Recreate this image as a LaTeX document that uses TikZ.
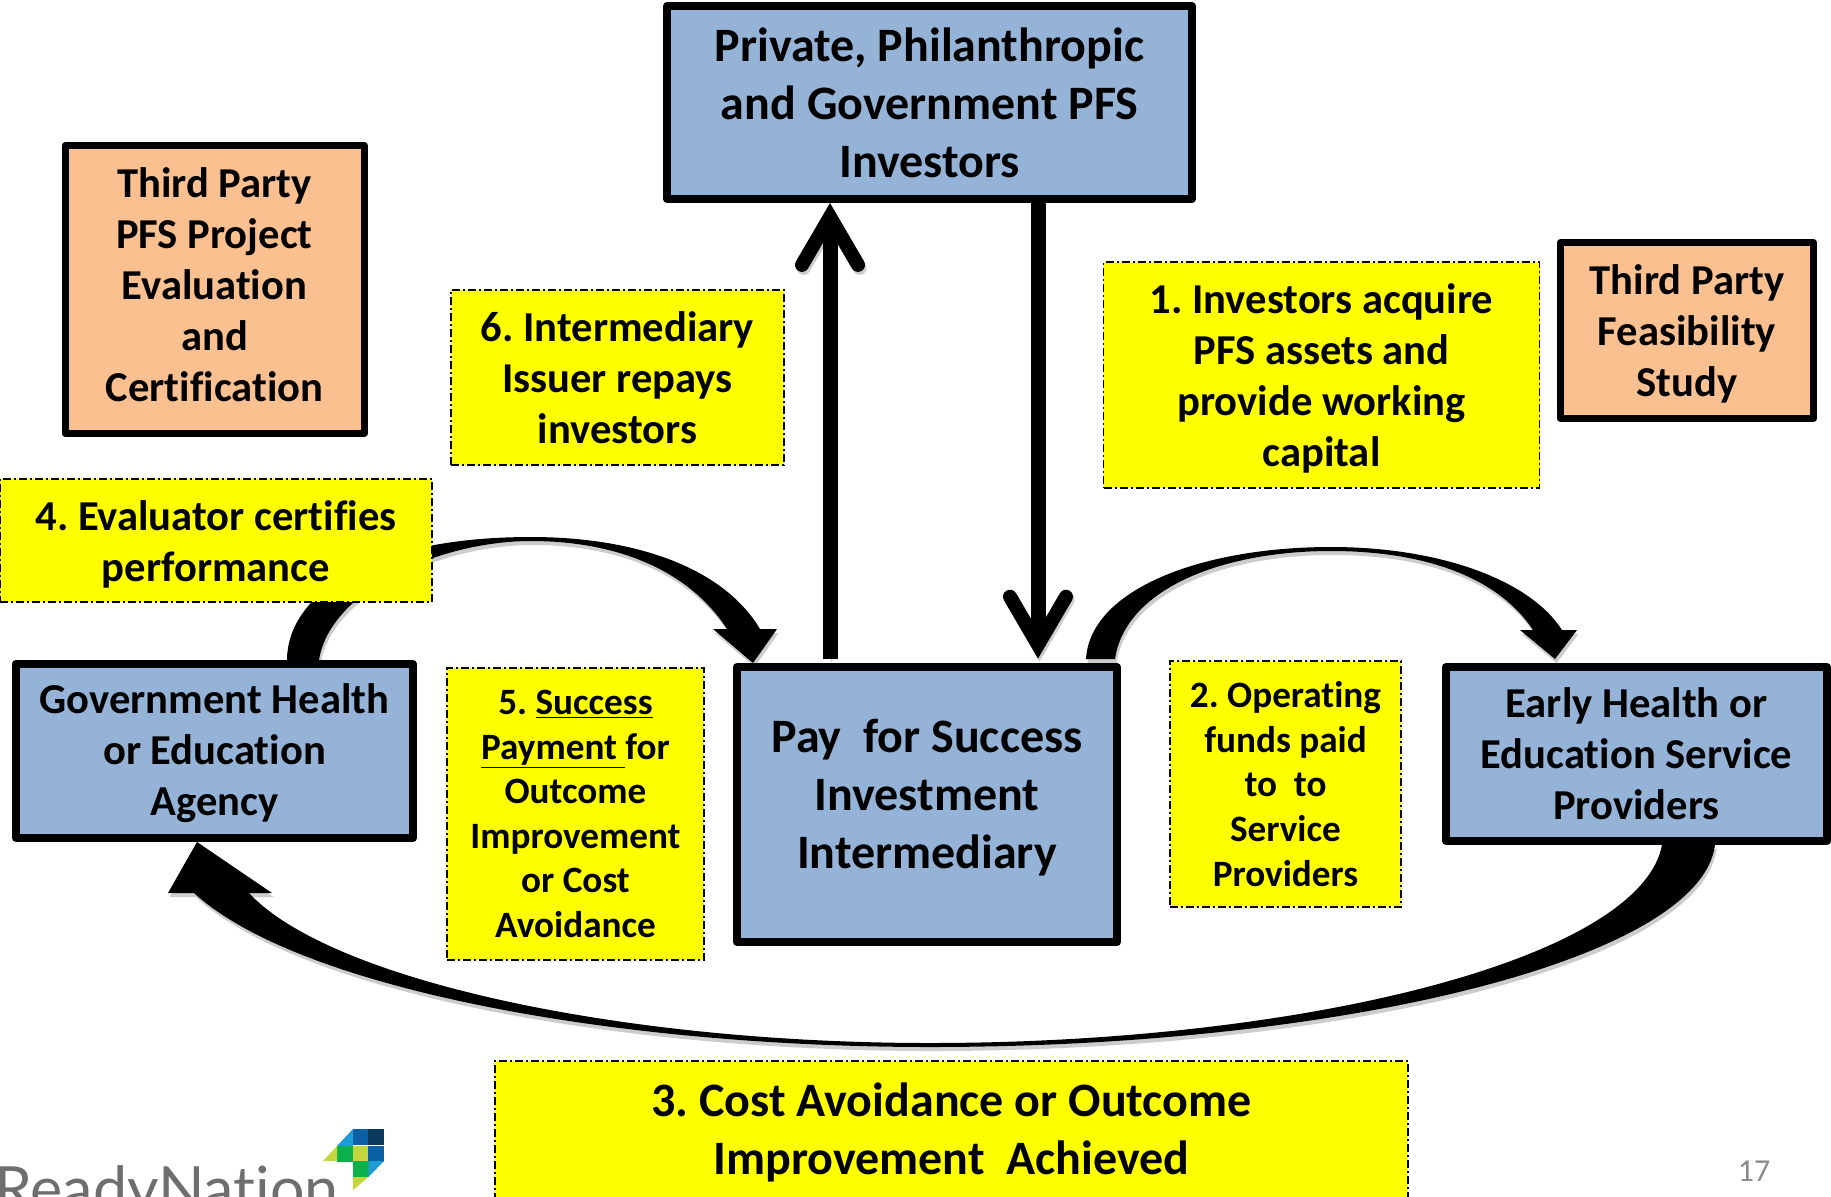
\documentclass[tikz,border=0pt]{standalone}
\usepackage{fontspec}
\setmainfont{Carlito}[Ligatures=NoCommon]
\newfontfamily\logofont{Lato}[Ligatures=NoCommon]
\usetikzlibrary{arrows.meta,shadows,backgrounds}
\definecolor{boxBlue}{HTML}{95B3D7}
\definecolor{boxPeach}{HTML}{FAC090}
\definecolor{stepYellow}{RGB}{255,255,0}
\definecolor{logoGray}{HTML}{6D6E70}
\definecolor{logoNavy}{HTML}{0A3A5E}
\definecolor{logoBlue}{HTML}{0B5FA5}
\definecolor{logoSky}{HTML}{1E9CD7}
\definecolor{logoGreen}{HTML}{0DB14B}
\definecolor{logoLime}{HTML}{C3D63C}
\newcommand{\padTop}[1]{\rule{0pt}{#1}}
\newcommand{\padBottom}[1]{\rule[-#1]{0pt}{#1}}

\begin{document}
\frenchspacing
\begin{tikzpicture}[x=.5pt,y=-.5pt,>=stealth]
  \useasboundingbox (0,0) rectangle (1831,1196);
  \tikzset{
    actor/.style={rectangle,draw=black,fill=boxBlue,line width=4pt,line join=round,align=center},
    third/.style={rectangle,draw=black,fill=boxPeach,line width=3.5pt,line join=round,align=center},
    stepbox/.style={rectangle,draw=black,fill=stepYellow,line width=.8pt,
      dash pattern=on 4pt off 1.5pt on 1pt off 1.5pt,align=center},
    % text sizes
    bigText/.style={font=\fontsize{24}{29}\selectfont\bfseries},
    midText/.style={font=\fontsize{21.3}{25.5}\selectfont\bfseries},
    smallText/.style={font=\fontsize{18.6}{22.3}\selectfont\bfseries},
    % edge styles
    straightArrow/.style={line width=7.5pt,
      -{Straight Barb[length=24pt,width=28pt,line width=7pt,line cap=round,line join=miter]},
      preaction={draw=black!20,transform canvas={shift={(.8pt,-1.5pt)}}}},
    curveArrow/.style={fill=black,drop shadow={shadow xshift=.8pt,shadow yshift=-2pt,opacity=.2,fill=black}}
  }

  %% Investors and intermediary
  \node [actor,bigText,minimum width=262.5pt,minimum height=96.5pt] (investors) at (929.5,102.5)
    {Private, Philanthropic\\and Government PFS\\Investors};
  \node [actor,bigText,minimum width=190pt,minimum height=137.5pt,node distance=351pt,xshift=-1.25pt]
    (intermediary) [below of=investors] {Pay\ \ for Success\\Investment\\Intermediary\padBottom{10.6pt}};

  %% Agency and providers
  \node [actor,midText,minimum width=198.5pt,minimum height=87pt,node distance=356.25pt,yshift=26.75pt]
    (agency) [left of=intermediary] {\padTop{17.3pt}Government Health\\or Education\\Agency};
  \node [actor,midText,minimum width=190.5pt,minimum height=87pt,node distance=354.75pt,yshift=25.25pt]
    (providers) [right of=intermediary] {Early Health or\\Education Service\\Providers};

  %% Third parties
  \node [third,midText,minimum width=149.5pt,minimum height=144pt,node distance=230.75pt]
    (evaluation) [above of=agency] {Third Party\\PFS Project\\Evaluation\\and\\Certification\padBottom{4.6pt}};
  \node [third,midText,minimum width=126.5pt,minimum height=88pt,node distance=211.75pt,xshift=25.25pt]
    (feasibility) [above of=providers] {\padTop{18.4pt}Third Party\\Feasibility\\Study};

  %% Numbered steps
  \node [stepbox,midText,minimum width=218pt,minimum height=113pt,node distance=196pt,yshift=-136.25pt]
    (invest) [right of=investors] {\padTop{18.4pt}1. Investors acquire\\PFS assets and\\provide working\\capital};
  \node [stepbox,smallText,minimum width=115.5pt,minimum height=123pt,node distance=179.25pt,yshift=10.25pt]
    (operate) [right of=intermediary] {2. Operating\\funds paid\\to\ \ to\\Service\\Providers};
  \node [stepbox,bigText,minimum width=456.5pt,minimum height=69pt,node distance=162.75pt,xshift=12.25pt]
    (achieved) [below of=intermediary] {\padTop{19.2pt}3. Cost Avoidance or Outcome\\Improvement\ \ Achieved};
  \node [stepbox,midText,minimum width=216pt,minimum height=61.5pt,node distance=105.25pt,xshift=.75pt]
    (certify) [above of=agency] {\padTop{18.4pt}4. Evaluator certifies\\performance};
  \node [stepbox,smallText,minimum width=128.5pt,minimum height=146pt,node distance=175.75pt,yshift=-4.75pt]
    (payment) [left of=intermediary] {5. \underline{Success}\\\underline{Payment\ }for\\Outcome\\Improvement\\or Cost\\Avoidance};
  \node [stepbox,midText,minimum width=166.5pt,minimum height=87.5pt,node distance=156pt,yshift=-137.5pt]
    (repay) [left of=investors] {6. Intermediary\\Issuer repays\\investors};

  %% Logo and page number
  \node [anchor=base west,inner sep=0pt,text=logoGray,font=\logofont\fontsize{30.5}{31}\selectfont] (logoName) at (-6,1210) {ReadyNation};
  \foreach \x/\y/\tone in {353/1129/logoBlue,368/1129/logoNavy,337/1146/logoGreen,353/1146/logoLime,
    368/1146/logoBlue,353/1161/logoGreen}
    \fill [\tone] (\x,\y) rectangle +(15.5,16);
  \fill [logoSky] (337,1146) -- (353,1129) -- (353,1146) -- cycle;
  \fill [logoLime] (323,1161) -- (337,1146) -- (337,1161) -- cycle;
  \fill [logoSky] (368.5,1177) -- (384,1161) -- (368.5,1161) -- cycle;
  \fill [logoLime] (353,1177) -- (368.5,1177) -- (353,1190) -- cycle;
  \node [inner sep=0pt,text=black!45,font=\fontsize{16}{16}\selectfont] (pageNumber) at (1754,1171) {17};

  %% Connectors
  \draw [straightArrow] ([xshift=-48.5pt,yshift=2pt]intermediary.north) -- ([xshift=-49.75pt]investors.south);
  \draw [straightArrow] ([xshift=54.25pt]investors.south) -- ([xshift=55.5pt,yshift=2.2pt]intermediary.north);

  \begin{scope}[on background layer]
    \fill [curveArrow] ([xshift=36.25pt]agency.north) .. controls (287,600) and (360,537) .. (531,537)
      .. controls (640,537) and (725,570) .. (760,629) -- (777,629) -- ([xshift=-87pt]intermediary.north)
      -- (713,629) -- (727,629) .. controls (690,572) and (620,541) .. (531,541)
      .. controls (440,541) and (330,590) .. ([xshift=52.25pt]agency.north) -- cycle;
    \fill [curveArrow] ([xshift=79.5pt,yshift=2pt]intermediary.north) .. controls (1090,590) and (1200,547) .. (1331,547)
      .. controls (1440,547) and (1530,580) .. (1562,630) -- (1577,630) -- ([xshift=-40.75pt,yshift=2pt]providers.north)
      -- (1520,630) -- (1533,630) .. controls (1500,580) and (1430,551) .. (1331,551)
      .. controls (1220,551) and (1125,590) .. ([xshift=94pt,yshift=2pt]intermediary.north) -- cycle;
    \fill [curveArrow] ([xshift=39.25pt]providers.south) .. controls (1700,960) and (1340,1047) .. (930,1047)
      .. controls (620,1047) and (300,990) .. (194,893) -- (168,893) -- ([xshift=-8.75pt]agency.south)
      -- (272,893) -- (249,893) .. controls (330,980) and (620,1043) .. (930,1043)
      .. controls (1300,1043) and (1640,960) .. ([xshift=12.75pt]providers.south) -- cycle;
  \end{scope}
\end{tikzpicture}
\end{document}
